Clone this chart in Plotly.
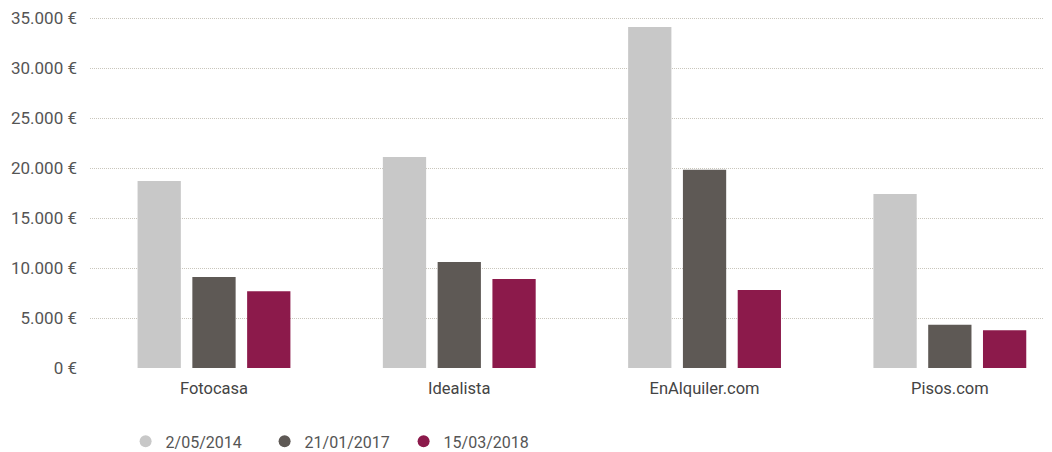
import plotly.graph_objects as go

categories = ["Fotocasa", "Idealista", "EnAlquiler.com", "Pisos.com"]
series_names = ["2/05/2014", "21/01/2017", "15/03/2018"]
values_2014 = [18700, 21100, 34100, 17400]
values_2017 = [9100, 10600, 19830, 4330]
values_2018 = [7680, 8900, 7800, 3780]
y_ticks = [0, 5000, 10000, 15000, 20000, 25000, 30000, 35000]
y_tick_labels = [f"{v:,}".replace(",", ".") + " €" for v in y_ticks]

colors = ["#c8c8c8", "#5e5955", "#8c1a4b"]
series = [values_2014, values_2017, values_2018]

fig = go.Figure()
for name, vals, col in zip(series_names, series, colors):
    fig.add_trace(go.Bar(x=categories, y=vals, name=name, marker=dict(color=col, line=dict(width=0)),
                         showlegend=False))
for name, col in zip(series_names, colors):
    fig.add_trace(go.Scatter(x=[None], y=[None], mode="markers", name=name,
                             marker=dict(symbol="circle", size=11, color=col)))

# page has an 8px body margin, so the figure is 8px smaller than the window
fig.update_layout(
    width=1044, height=444,
    margin=dict(l=82, r=0, t=6, b=84, autoexpand=False),
    paper_bgcolor="white", plot_bgcolor="white",
    barmode="group", bargap=0.33, bargroupgap=0.21,
    font=dict(family="Roboto", size=16, color="#555555"),
    xaxis=dict(range=[-0.5055, 3.4165], showgrid=False, showline=False, ticks="", automargin=False,
               ticklabelstandoff=8,
               tickfont=dict(size=16.5, color="#444444"), fixedrange=True),
    yaxis=dict(range=[0, 35400], tickvals=y_ticks, ticktext=y_tick_labels, automargin=False,
               showgrid=True, gridcolor="#c9c6bc", griddash="1px,1px", gridwidth=1,
               zeroline=False, showline=False, ticks="", ticklabelstandoff=12,
               ticklabeloverflow="allow", fixedrange=True,
               tickfont=dict(size=17, color="#555555")),
    legend=dict(orientation="h", x=0.037, xanchor="left", y=-0.209 * 351 / 354, yanchor="middle",
                font=dict(size=16, color="#555555"),
                entrywidth=94, entrywidthmode="pixels", itemsizing="constant"),
)

fig.write_html("out.html")
